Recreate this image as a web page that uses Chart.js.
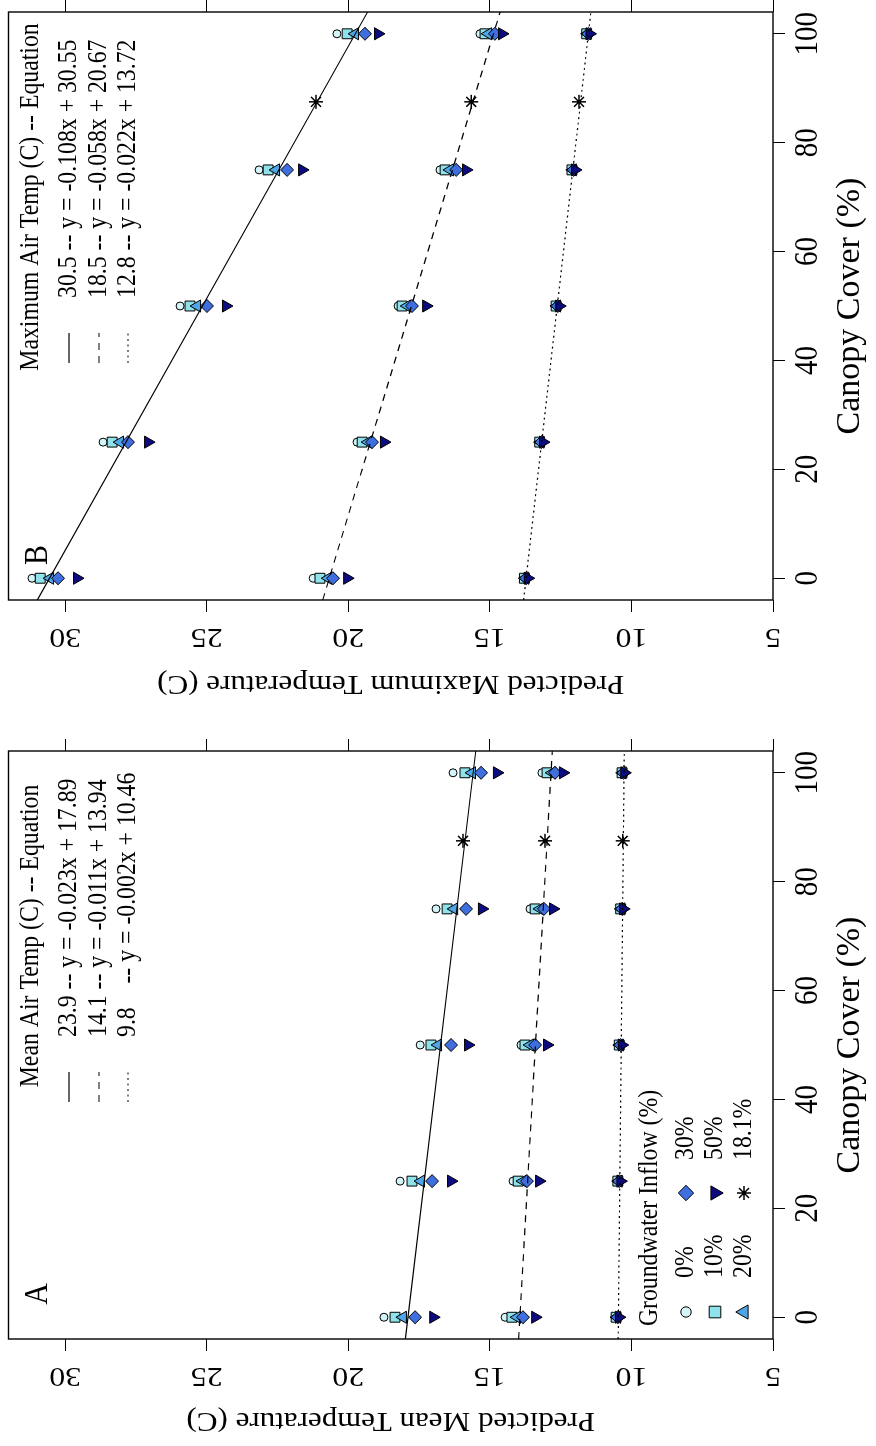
<!DOCTYPE html>
<html>
<head>
<meta charset="utf-8">
<script src="https://cdn.jsdelivr.net/npm/chart.js@4.4.1/dist/chart.umd.min.js"></script>
<style>
  html, body { margin: 0; padding: 0; background: #fff; overflow: hidden; width: 876px; height: 1446px; }
  /* The figure is laid out landscape (1446 x 876) and turned a quarter turn onto the page. */
  #fig { position: absolute; left: 0; top: 0; width: 1446px; height: 876px;
         transform-origin: 0 0; transform: translate(0, 1446px) rotate(-90deg); background: #fff; }
  #fig canvas { position: absolute; top: 0; }
</style>
</head>
<body>
<div id="fig">
  <canvas id="panelA" width="707" height="876" style="left:0px"></canvas>
  <canvas id="panelB" width="707" height="876" style="left:739px"></canvas>
</div>
<script>
// ---------------- data ----------------
const canopyCover = [0, 25, 50, 75, 100];
const inflowLabels = ['0%', '10%', '20%', '30%', '50%'];
const observedCanopy = 87.5;
const observedInflowLabel = '18.1%';
const canopyTicks = [0, 20, 40, 60, 80, 100];
const tempTicks = [5, 10, 15, 20, 25, 30];

// Predicted mean temperature; rows = inflow 0,10,20,30,50 %, columns = canopy cover
const meanWarm = [
  [18.74, 18.17, 17.46, 16.90, 16.30],
  [18.35, 17.75, 17.08, 16.51, 15.88],
  [18.07, 17.43, 16.83, 16.26, 15.63],
  [17.64, 17.04, 16.37, 15.84, 15.31],
  [17.00, 16.37, 15.77, 15.28, 14.75]
];
const meanMild = [
  [14.46, 14.18, 13.90, 13.58, 13.16],
  [14.22, 14.00, 13.76, 13.40, 12.98],
  [14.04, 13.83, 13.58, 13.23, 12.80],
  [13.83, 13.69, 13.40, 13.09, 12.70],
  [13.40, 13.26, 12.98, 12.77, 12.42]
];
const meanCool = [
  [10.56, 10.50, 10.45, 10.40, 10.35],
  [10.54, 10.48, 10.43, 10.38, 10.33],
  [10.51, 10.45, 10.41, 10.36, 10.31],
  [10.48, 10.43, 10.38, 10.33, 10.28],
  [10.44, 10.39, 10.34, 10.29, 10.25]
];
const meanObserved = [15.95, 13.05, 10.31];
const meanAirTemp = ['23.9', '14.1', '9.8'];
const meanSlope = [-0.023, -0.011, -0.002];
const meanIntercept = [17.89, 13.94, 10.46];

// Predicted maximum temperature; same layout
const maxWarm = [
  [31.17, 28.66, 25.94, 23.15, 20.40],
  [30.88, 28.34, 25.59, 22.83, 20.04],
  [30.53, 28.06, 25.34, 22.55, 19.76],
  [30.25, 27.78, 24.99, 22.16, 19.41],
  [29.58, 27.07, 24.32, 21.63, 18.95]
];
const maxMild = [
  [21.24, 19.69, 18.24, 16.76, 15.35],
  [21.00, 19.51, 18.10, 16.58, 15.17],
  [20.71, 19.30, 17.92, 16.41, 15.06],
  [20.54, 19.16, 17.75, 16.19, 14.82],
  [20.04, 18.74, 17.25, 15.84, 14.57]
];
const maxCool = [
  [13.80, 13.26, 12.68, 12.12, 11.60],
  [13.78, 13.24, 12.66, 12.10, 11.58],
  [13.75, 13.21, 12.63, 12.07, 11.55],
  [13.72, 13.18, 12.60, 12.04, 11.52],
  [13.66, 13.12, 12.55, 11.99, 11.48]
];
const maxObserved = [21.14, 15.66, 11.85];
const maxAirTemp = ['30.5', '18.5', '12.8'];
const maxSlope = [-0.108, -0.058, -0.022];
const maxIntercept = [30.55, 20.67, 13.72];

// ---------------- styling ----------------
const SERIF = '"Liberation Serif", "Times New Roman", serif';
const K = 0.88;                       // horizontal condensing of the serif face
const X_MIN = -4, X_MAX = 104, Y_MIN = 5, Y_MAX = 32;
const inflowStyle = [
  { pointStyle: 'circle',   radius: 4,   rotation: 0,   fill: '#d4f5f8' },
  { pointStyle: 'rect',     radius: 7,   rotation: 0,   fill: '#8ee2ea' },
  { pointStyle: 'triangle', radius: 7,   rotation: 0,   fill: '#4ea6e6' },
  { pointStyle: 'rectRot',  radius: 6.5, rotation: 0,   fill: '#3f6fdf' },
  { pointStyle: 'triangle', radius: 7,   rotation: 180, fill: '#0c0c80' }
];
const lineDash = [[], [7, 6], [2, 3.5]];

function equationText(air, m, b) {
  const lead = air.length < 4 ? air + '\u00a0\u00a0\u00a0' : air;
  return lead + ' -- y = ' + m.toFixed(3) + 'x + ' + b.toFixed(2);
}

function condensedText(ctx, text, x, y, size, opts = {}) {
  ctx.save();
  ctx.translate(x, y);
  ctx.scale(opts.squeeze || K, 1);
  if (opts.rotate) ctx.rotate(opts.rotate);
  ctx.font = size + 'px ' + SERIF;
  ctx.fillStyle = '#000';
  ctx.textAlign = opts.align || 'center';
  ctx.textBaseline = 'middle';
  ctx.fillText(text, 0, 0);
  ctx.restore();
}

function marker(ctx, style, x, y) {
  ctx.save();
  ctx.fillStyle = style.fill || 'rgba(0,0,0,0)';
  ctx.strokeStyle = '#000';
  ctx.lineWidth = style.borderWidth || 1;
  Chart.helpers.drawPoint(ctx, { pointStyle: style.pointStyle, radius: style.radius,
    rotation: style.rotation || 0, borderWidth: style.borderWidth || 1 }, x, y);
  ctx.restore();
}

function makePanel(canvasId, spec) {
  const datasets = [];
  spec.slope.forEach((m, i) => {
    datasets.push({
      data: [X_MIN, X_MAX].map(x => ({ x, y: m * x + spec.intercept[i] })),
      showLine: true, borderColor: '#000', borderWidth: 1.2, borderDash: lineDash[i],
      pointRadius: 0, order: 0, xAxisID: 'x', yAxisID: 'y'
    });
  });
  datasets.push({
    data: spec.observed.map(v => ({ x: observedCanopy, y: v })),
    pointStyle: 'star', pointRadius: 7, borderColor: '#000', borderWidth: 1.5,
    order: 1, xAxisID: 'x', yAxisID: 'y'
  });
  inflowLabels.forEach((lab, g) => {
    const st = inflowStyle[g];
    const pts = [];
    spec.groups.forEach(grid => canopyCover.forEach((c, j) => pts.push({ x: c, y: grid[g][j] })));
    datasets.push({
      label: lab, data: pts, pointStyle: st.pointStyle, pointRadius: st.radius,
      pointRotation: st.rotation, backgroundColor: st.fill, borderColor: '#000',
      borderWidth: 1, order: 6 - g, xAxisID: 'x', yAxisID: 'y'
    });
  });

  const tickGrid = { drawOnChartArea: false, drawTicks: true, tickLength: 12, color: '#000', lineWidth: 1 };

  const decor = {
    id: 'decor',
    afterDraw(chart) {
      const ctx = chart.ctx, a = chart.chartArea;
      const xs = chart.scales.x, ys = chart.scales.y;
      // frame
      ctx.save();
      ctx.strokeStyle = '#000';
      ctx.lineWidth = 1.4;
      ctx.strokeRect(a.left, a.top, a.right - a.left, a.bottom - a.top);
      ctx.restore();
      // tick labels
      canopyTicks.forEach(v => condensedText(ctx, String(v), xs.getPixelForValue(v), 808, 33));
      tempTicks.forEach(v => condensedText(ctx, String(v), 71, ys.getPixelForValue(v), 32, { rotate: -Math.PI / 2 }));
      // axis titles
      condensedText(ctx, 'Canopy Cover (%)', (a.left + a.right) / 2, 850, 34, { squeeze: 1 });
      condensedText(ctx, spec.yTitle, spec.yTitleX, (a.top + a.bottom) / 2, 31, { rotate: -Math.PI / 2 });
      // panel letter
      condensedText(ctx, spec.letter, 152, 38, 34);
      // equation legend
      condensedText(ctx, spec.legendTitle, 510, 31, 27);
      const rows = [69, 99, 128];
      spec.slope.forEach((m, i) => {
        ctx.save();
        ctx.strokeStyle = '#000';
        ctx.lineWidth = 1.2;
        ctx.setLineDash(lineDash[i]);
        ctx.beginPath();
        ctx.moveTo(344, rows[i]);
        ctx.lineTo(374, rows[i]);
        ctx.stroke();
        ctx.restore();
        condensedText(ctx, equationText(spec.air[i], m, spec.intercept[i]), 409, rows[i], 27, { align: 'left' });
      });
      // groundwater legend
      if (spec.inflowLegend) {
        condensedText(ctx, 'Groundwater Inflow (%)', 238, 650, 27);
        const rowsG = [686, 715, 744];
        const entries = inflowLabels.map((lab, g) => ({
          lab, st: Object.assign({}, inflowStyle[g], { radius: inflowStyle[g].radius + 1.2 })
        }));
        entries.push({ lab: observedInflowLabel, st: { pointStyle: 'star', radius: 7, fill: null, borderWidth: 1.5 } });
        entries.forEach((e, k) => {
          const col = k < 3 ? 0 : 1, row = k % 3;
          const mx = col === 0 ? 134 : 253, tx = col === 0 ? 168 : 286;
          marker(ctx, e.st, mx, rowsG[row]);
          condensedText(ctx, e.lab, tx, rowsG[row], 27, { align: 'left' });
        });
      }
    }
  };

  return new Chart(document.getElementById(canvasId), {
    type: 'scatter',
    data: { datasets },
    options: {
      responsive: false, animation: false, events: [],
      layout: { padding: { top: 8, left: 0, right: 0, bottom: 0 } },
      plugins: { legend: { display: false }, tooltip: { enabled: false } },
      scales: {
        x: {
          type: 'linear', position: 'bottom', min: X_MIN, max: X_MAX,
          afterBuildTicks: s => { s.ticks = canopyTicks.map(v => ({ value: v })); },
          afterFit: s => { s.height = 103; },
          ticks: { display: false }, grid: tickGrid, border: { display: false }
        },
        y: {
          type: 'linear', position: 'left', min: Y_MIN, max: Y_MAX,
          afterBuildTicks: s => { s.ticks = tempTicks.map(v => ({ value: v })); },
          afterFit: s => { s.width = 107; },
          ticks: { display: false }, grid: tickGrid, border: { display: false }
        },
        y2: {
          type: 'linear', position: 'right', min: Y_MIN, max: Y_MAX,
          afterBuildTicks: s => { s.ticks = tempTicks.map(v => ({ value: v })); },
          afterFit: s => { s.width = 12; },
          ticks: { display: false }, grid: tickGrid, border: { display: false }
        }
      }
    },
    plugins: [decor]
  });
}

makePanel('panelA', {
  groups: [meanWarm, meanMild, meanCool], observed: meanObserved,
  slope: meanSlope, intercept: meanIntercept, air: meanAirTemp,
  legendTitle: 'Mean Air Temp (C) -- Equation',
  yTitle: 'Predicted Mean Temperature (C)', yTitleX: 26, letter: 'A', inflowLegend: true
});
makePanel('panelB', {
  groups: [maxWarm, maxMild, maxCool], observed: maxObserved,
  slope: maxSlope, intercept: maxIntercept, air: maxAirTemp,
  legendTitle: 'Maximum Air Temp (C) -- Equation',
  yTitle: 'Predicted Maximum Temperature (C)', yTitleX: 24, letter: 'B', inflowLegend: false
});
</script>
</body>
</html>
